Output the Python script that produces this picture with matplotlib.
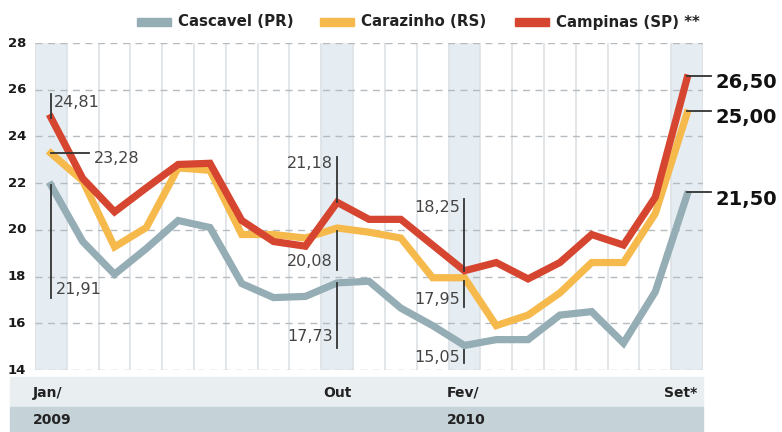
import matplotlib
matplotlib.use('Agg')
import matplotlib.pyplot as plt
from matplotlib.patches import Rectangle

# monthly values, Jan/2009 .. Set/2010
months = ['Jan/', '', '', '', '', '', '', '', '', 'Out', '', '', '', 'Fev/', '', '', '', '', '', '', 'Set*']
years = {0: '2009', 13: '2010'}
cascavel = [21.91, 19.5, 18.1, 19.2, 20.4, 20.1, 17.7, 17.1, 17.15, 17.73, 17.8,
            16.65, 15.9, 15.05, 15.3, 15.3, 16.35, 16.5, 15.15, 17.35, 21.50]
carazinho = [23.28, 22.1, 19.27, 20.1, 22.65, 22.55, 19.8, 19.8, 19.65, 20.08, 19.9,
             19.65, 17.95, 17.95, 15.9, 16.35, 17.3, 18.6, 18.6, 20.7, 25.00]
campinas = [24.81, 22.2, 20.77, 21.8, 22.8, 22.85, 20.4, 19.5, 19.3, 21.18, 20.45,
            20.45, 19.35, 18.25, 18.6, 17.9, 18.6, 19.8, 19.35, 21.4, 26.50]
series = [('Cascavel (PR)', cascavel, '#95adb5'),
          ('Carazinho (RS)', carazinho, '#f6b94c'),
          ('Campinas (SP) **', campinas, '#d64530')]
shaded = [0, 9, 13, 20]
yticks = [14, 16, 18, 20, 22, 24, 26, 28]

W, H = 782, 432
fig = plt.figure(figsize=(W / 100, H / 100), dpi=100)
ax = fig.add_axes([35 / W, 1 - 370 / H, 668 / W, 327 / H])
ax.set_xlim(-0.5, 20.5)
ax.set_ylim(14, 28)
for s in ax.spines.values():
    s.set_visible(False)
ax.set_xticks([])
ax.set_yticks([])

for i in shaded:
    ax.axvspan(i - 0.5, i + 0.5, color='#e6edf2', zorder=0, lw=0)
for i in range(22):
    ax.axvline(i - 0.5, color='#dde2e5', lw=1.2, zorder=1)
for v in yticks:
    ax.axhline(v, color='#b5bbbf', lw=1, ls=(0, (5, 4)), zorder=1)
    ax.text(-0.78, v, str(v), ha='right', va='center', fontsize=9.5,
            fontweight='bold', color='#1a1a1a')

x = list(range(len(months)))
for name, vals, col in series:
    ax.plot(x, vals, color=col, lw=5.2, solid_joinstyle='miter', zorder=3)

# annotations
def fmt(v):
    return f'{v:.2f}'.replace('.', ',')

lc = '#333333'
afs = 11.5
acol = '#444444'
# Jan
ax.plot([0, 0], [campinas[0], 25.8], color=lc, lw=1.3, zorder=4)
ax.text(0.1, 25.45, fmt(campinas[0]), fontsize=afs, color=acol, va='center')
ax.plot([0, 1.2], [carazinho[0], carazinho[0]], color=lc, lw=1.3, zorder=4)
ax.text(1.35, 23.05, fmt(carazinho[0]), fontsize=afs, color=acol, va='center')
ax.plot([0, 0], [cascavel[0], 17.1], color=lc, lw=1.3, zorder=4)
ax.text(0.15, 17.45, fmt(cascavel[0]), fontsize=afs, color=acol, va='center')
# Out
ax.plot([9, 9], [campinas[9], 23.1], color=lc, lw=1.3, zorder=4)
ax.text(8.85, 22.85, fmt(campinas[9]), fontsize=afs, color=acol, va='center', ha='right')
ax.plot([9, 9], [19.95, 18.3], color=lc, lw=1.3, zorder=4)
ax.text(8.85, 18.65, fmt(carazinho[9]), fontsize=afs, color=acol, va='center', ha='right')
ax.plot([9, 9], [cascavel[9], 14.95], color=lc, lw=1.3, zorder=4)
ax.text(8.85, 15.45, fmt(cascavel[9]), fontsize=afs, color=acol, va='center', ha='right')
# Fev
ax.plot([13, 13], [campinas[13], 21.3], color=lc, lw=1.3, zorder=4)
ax.text(12.85, 20.95, fmt(campinas[13]), fontsize=afs, color=acol, va='center', ha='right')
ax.plot([13, 13], [17.8, 16.7], color=lc, lw=1.3, zorder=4)
ax.text(12.85, 17.0, fmt(carazinho[13]), fontsize=afs, color=acol, va='center', ha='right')
ax.plot([13, 13], [14.85, 14.3], color=lc, lw=1.3, zorder=4)
ax.text(12.85, 14.55, fmt(cascavel[13]), fontsize=afs, color=acol, va='center', ha='right')
# Set
for vals in (campinas, carazinho, cascavel):
    v = vals[20]
    ax.plot([20, 20.75], [v + 0.1, v + 0.1], color=lc, lw=1.3, zorder=4, clip_on=False)
    ax.text(20.9, v - 0.2, fmt(v), fontsize=14, fontweight='bold', color='#111111',
            va='center', clip_on=False)

# bottom bands
fig.patches.append(Rectangle((10 / W, 1 - 407 / H), 693 / W, 30 / H,
                             transform=fig.transFigure, color='#e9eef1', zorder=0))
fig.patches.append(Rectangle((10 / W, 0), 693 / W, 1 - 407 / H,
                             transform=fig.transFigure, color='#c5d3d9', zorder=0))
for i, lab in enumerate(months):
    if not lab:
        continue
    xf = (35 + (i + 0.5) * 668 / 21) / W
    if lab == 'Jan/':
        fig.text(33 / W, 1 - 393 / H, lab, ha='left', va='center', fontsize=10, fontweight='bold', color='#222222')
    elif lab == 'Set*':
        fig.text(697 / W, 1 - 393 / H, lab, ha='right', va='center', fontsize=10, fontweight='bold', color='#222222')
    elif lab == 'Fev/':
        fig.text(447 / W, 1 - 393 / H, lab, ha='left', va='center', fontsize=10, fontweight='bold', color='#222222')
    else:
        fig.text(xf, 1 - 393 / H, lab, ha='center', va='center', fontsize=10, fontweight='bold', color='#222222')
fig.text(33 / W, 1 - 420 / H, years[0], ha='left', va='center', fontsize=10, fontweight='bold', color='#222222')
fig.text(447 / W, 1 - 420 / H, years[13], ha='left', va='center', fontsize=10, fontweight='bold', color='#222222')

# legend
leg_x = [137, 320, 515]
for (name, vals, col), lx in zip(series, leg_x):
    fig.patches.append(Rectangle((lx / W, 1 - 26 / H), 34 / W, 8 / H,
                                 transform=fig.transFigure, color=col))
    fig.text((lx + 41) / W, 1 - 22 / H, name, ha='left', va='center', fontsize=10.8,
             fontweight='bold', color='#222222')

fig.savefig('out.png', dpi=100)
